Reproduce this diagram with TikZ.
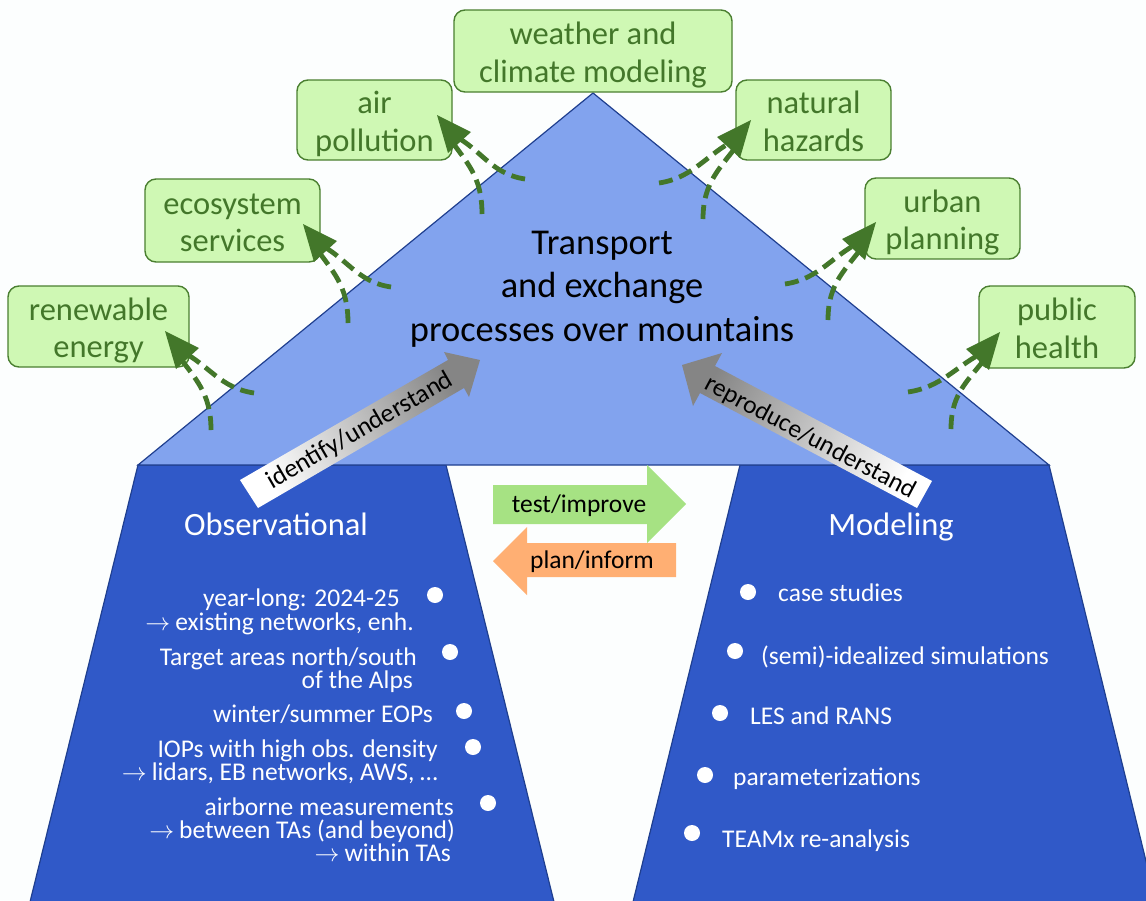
\documentclass[tikz,border=0pt]{standalone}
\usepackage{fontspec}
\setmainfont{Carlito}
\usetikzlibrary{arrows.meta,calc}
\definecolor{bgc}{HTML}{FCFEFE}
\definecolor{tri}{HTML}{82A3EE}
\definecolor{deepb}{HTML}{3059C8}
\definecolor{edgeb}{HTML}{1F3F8F}
\definecolor{boxf}{HTML}{CFF8B4}
\definecolor{boxe}{HTML}{4A7F30}
\definecolor{gtx}{HTML}{43772A}
\definecolor{tgreen}{HTML}{A6E283}
\definecolor{porange}{HTML}{FFAF73}
\definecolor{hgray}{HTML}{858585}
\tikzset{
  fs/.style={font=\fontsize{#1}{#1}\selectfont},
  appbox/.style={draw=boxe,line width=1.4pt,fill=boxf,rounded corners=11pt,text=gtx,align=center,
    inner sep=0pt,fs=32.5,text height=67.5pt,text depth=5.5pt,execute at begin node=\setlength{\baselineskip}{37.5pt}},
  link/.style={draw=gtx,line width=4.8pt,dash pattern=on 14pt off 7pt},
  plate/.style={draw=edgeb,line width=1.2pt},
  wlab/.style={text=white,fs=25.5,inner sep=0pt},
  wdot/.style={circle,fill=white,minimum size=16pt,inner sep=0pt},
  arrlab/.style={text=black,fs=25.5,inner sep=0pt}
}
\newcommand{\lra}{$\rightarrow$\hspace{5pt}}
\begin{document}
\begin{tikzpicture}[x=1pt,y=-1pt]
\useasboundingbox (0,0) rectangle (1146,900);
\fill[bgc] (0,0) rectangle (1146,900);
\begin{scope}
\clip (0,0) rectangle (1146,900);
\filldraw[plate,fill=deepb] (138,465) -- (446,465) -- (554,902) -- (30,902) -- cycle;
\filldraw[plate,fill=deepb] (740,465) -- (1049,465) -- (1156,902) -- (633,902) -- cycle;
\end{scope}
\filldraw[plate,fill=tri] (593,93) -- (1049,465) -- (138,465) -- cycle;

% application boxes
\node[appbox,minimum width=278pt,minimum height=82pt] (wx) at (593,51) {weather and\\climate modeling};
\node[appbox,minimum width=155pt,minimum height=80pt] (air) at (374.5,120) {air\\pollution};
\node[appbox,minimum width=155pt,minimum height=80pt] (haz) at (813.5,120) {natural\\hazards};
\node[appbox,minimum width=175pt,minimum height=83pt] (eco) at (232.5,220.5) {ecosystem\\services};
\node[appbox,minimum width=155pt,minimum height=81pt] (urb) at (942.5,218.5) {urban\\planning};
\node[appbox,minimum width=181pt,minimum height=81pt] (ren) at (98.5,326.5) {renewable\\energy};
\node[appbox,minimum width=156pt,minimum height=82pt] (pub) at (1057,327) {public\\health};

% curved dashed arrows
\coordinate (tren) at (165,331); \coordinate (ren1) at (211,430); \coordinate (ren2) at (254,393);
\coordinate (teco) at (303,224); \coordinate (eco1) at (348,323); \coordinate (eco2) at (391,287);
\coordinate (tair) at (437,115); \coordinate (air1) at (482,214); \coordinate (air2) at (525,179);
\coordinate (thaz) at (751,120); \coordinate (haz1) at (703,219); \coordinate (haz2) at (659,183);
\coordinate (turb) at (876,222); \coordinate (urb1) at (828,320); \coordinate (urb2) at (785,284);
\coordinate (tpub) at (1000,332); \coordinate (pub1) at (951,429); \coordinate (pub2) at (908,392);
\foreach \t/\a/\b/\s in {tren/ren1/ren2/1,teco/eco1/eco2/1,tair/air1/air2/1,thaz/haz1/haz2/-1,turb/urb1/urb2/-1,tpub/pub1/pub2/-1}{
  \draw[link] (\a) .. controls ($(\a)+(0,-38)$) and ($(\t)+(\s*30,48)$) .. ($(\t)+(\s*10,20)$);
  \draw[link] (\b) .. controls ($(\b)+(\s*-34,-5)$) and ($(\t)+(\s*44,34)$) .. ($(\t)+(\s*16,20)$);
  \fill[gtx] (\t) -- ($(\t)+(\s*34,17)$) -- ($(\t)+(\s*11,38)$) -- cycle;
}

% main label
\node[fs=36.4,text=black,align=center,inner sep=0pt,execute at begin node=\setlength{\baselineskip}{43.5pt}] (main) at (602,289) {Transport\hspace{8pt}\\and exchange\hspace{8pt}\\processes over mountains};

% gray arrows
\shade[left color=white,right color=hgray,shading angle=120]
  (240,480) -- (448,360) -- (444,352) -- (480,360) -- (469,397) -- (464,388) -- (258,508) -- cycle;
\shade[left color=white,right color=hgray,shading angle=-118]
  (932,481) -- (715,366) -- (722,353) -- (682,365) -- (693,406) -- (700,393) -- (917,508) -- cycle;
\node[arrlab,rotate=30,fs=26] (idn) at (360,431) {identify/understand};
\node[arrlab,rotate=-28] (rep) at (810,438) {reproduce/understand};

% headings
\node[text=white,fs=32.5,inner sep=0pt,anchor=base] (obs) at (276,535) {Observational};
\node[text=white,fs=32.5,inner sep=0pt,anchor=base] (mod) at (891,535) {Modeling};

% middle arrows
\fill[porange] (493,561) -- (527,527) -- (527,543) -- (676,543) -- (676,577) -- (527,577) -- (527,595) -- cycle;
\fill[tgreen] (493,485) -- (647,485) -- (647,465) -- (686,504) -- (647,543) -- (647,524) -- (493,524) -- cycle;
\node[arrlab] (tst) at (579,506) {test/improve};
\node[arrlab] (pln) at (592,562) {plan/inform};

% observational list
\node[wdot] (d1) at (435,595) {};
\node[wdot] (d2) at (450,652) {};
\node[wdot] (d3) at (464,711) {};
\node[wdot] (d4) at (473,747) {};
\node[wdot] (d5) at (488,803) {};
\node[wlab,anchor=base east] (o1) at (400,606) {year-long: 2024-25};
\node[wlab,anchor=base east] (o2) at (414,630) {\lra existing networks, enh.};
\node[wlab,anchor=base east] (o3) at (417,665) {Target areas north/south};
\node[wlab,anchor=base east] (o4) at (413,688) {of the Alps};
\node[wlab,anchor=base east] (o5) at (433,722) {winter/summer EOPs};
\node[wlab,anchor=base east] (o6) at (438,757) {IOPs with high obs. density};
\node[wlab,anchor=base east] (o7) at (438,780) {\lra lidars, EB networks, AWS, …};
\node[wlab,anchor=base east] (o8) at (454,815) {airborne measurements};
\node[wlab,anchor=base east] (o9) at (455,838) {\lra between TAs (and beyond)};
\node[wlab,anchor=base east] (o10) at (451,861) {\lra within TAs};

% modeling list
\node[wdot] (m1) at (748,592) {};
\node[wdot] (m2) at (735,651) {};
\node[wdot] (m3) at (720,713) {};
\node[wdot] (m4) at (705,775) {};
\node[wdot] (m5) at (692,833) {};
\node[wlab,anchor=base west] (r1) at (778,601) {case studies};
\node[wlab,anchor=base west] (r2) at (761,664) {(semi)-idealized simulations};
\node[wlab,anchor=base west] (r3) at (750,724) {LES and RANS};
\node[wlab,anchor=base west] (r4) at (733,785) {parameterizations};
\node[wlab,anchor=base west] (r5) at (722,847) {TEAMx re-analysis};
\end{tikzpicture}
\end{document}
